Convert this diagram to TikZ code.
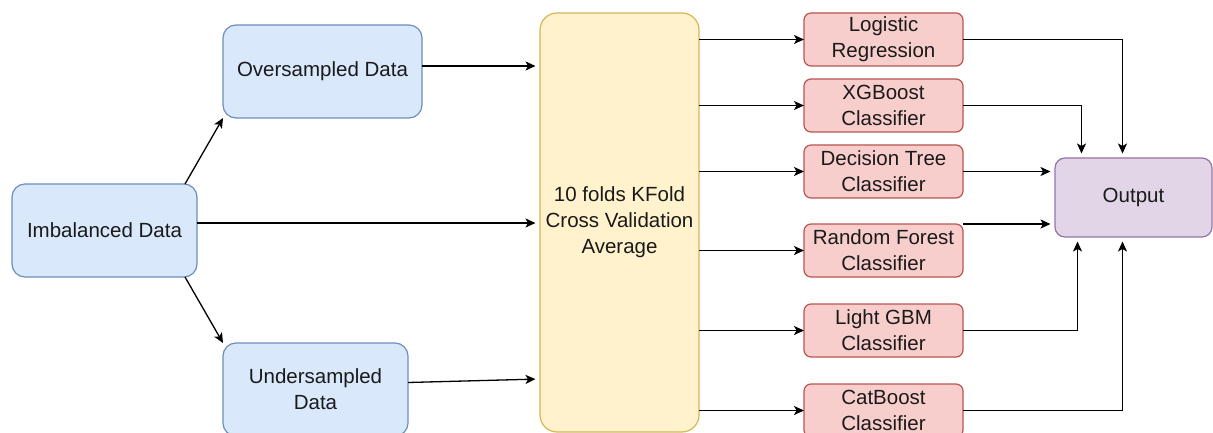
\documentclass[tikz,border=0pt]{standalone}
\usepackage{fontspec}
\setmainfont{Liberation Sans}
\usetikzlibrary{arrows.meta,calc}
\definecolor{bfill}{HTML}{DAE8FC}\definecolor{bdraw}{HTML}{6C8EBF}
\definecolor{yfill}{HTML}{FFF2CC}\definecolor{ydraw}{HTML}{D6B656}
\definecolor{rfill}{HTML}{F8CECC}\definecolor{rdraw}{HTML}{B85450}
\definecolor{pfill}{HTML}{E1D5E7}\definecolor{pdraw}{HTML}{9673A6}
\definecolor{txt}{HTML}{1A1A1A}
\tikzset{
  base/.style={rectangle, line width=1.2pt, outer sep=0pt, align=center, text=txt,
    font=\fontsize{20.5}{26}\selectfont, inner sep=0pt},
  bluebox/.style={base, fill=bfill, draw=bdraw, rounded corners=13pt},
  cvbox/.style={base, fill=yfill, draw=ydraw, rounded corners=17pt},
  redbox/.style={base, fill=rfill, draw=rdraw, rounded corners=7pt,
    minimum width=159, minimum height=53},
  outbox/.style={base, fill=pfill, draw=pdraw, rounded corners=10pt},
  arr/.style={line width=1.3pt, -{Stealth[length=10pt,width=9pt,inset=2.5pt]}},
  arrg/.style={arr, shorten >=4.5pt},
}
\begin{document}
\begin{tikzpicture}[x=1pt,y=-1pt]
\useasboundingbox (0,0) rectangle (1213,433);
\node[bluebox, minimum width=185, minimum height=93] (imb) at (104.5,230.5) {Imbalanced Data};
\node[bluebox, minimum width=199, minimum height=93] (over) at (322.5,71.5) {Oversampled Data};
\node[bluebox, minimum width=185, minimum height=93] (under) at (315.5,389.5) {Undersampled\\Data};
\node[cvbox, minimum width=159, minimum height=419] (cv) at (619.5,222.5) {10 folds KFold\\Cross Validation\\Average};
\node[redbox] (lr) at (883.5,39.5) {Logistic\\Regression};
\node[redbox] (xgb) at (883.5,105.5) {XGBoost\\Classifier};
\node[redbox] (dt) at (883.5,171.5) {Decision Tree\\Classifier};
\node[redbox] (rf) at (883.5,250.5) {Random Forest\\Classifier};
\node[redbox] (lgbm) at (883.5,330.5) {Light GBM\\Classifier};
\node[redbox] (cat) at (883.5,410.5) {CatBoost\\Classifier};
\node[outbox, minimum width=157, minimum height=79] (out) at (1133.5,197.5) {Output};

% left part
\draw[arr] ([xshift=-12pt]imb.north east) -- (over.south west);
\draw[arr] ([xshift=-12pt]imb.south east) -- (under.north west);
\coordinate (a1) at ([yshift=7.5pt]imb.east);
\draw[arrg] (a1) -- (a1 -| cv.west);
\coordinate (a2) at ([yshift=5.5pt]over.east);
\draw[arrg] (a2) -- (a2 -| cv.west);
\coordinate (a3) at ([yshift=7pt]under.east);
\coordinate (a4) at ([yshift=-156.5pt]cv.west);
\draw[arrg] (a3) -- (a4);

% cv to classifiers
\foreach \n in {lr,xgb,dt,rf,lgbm,cat}{
  \draw[arr] (cv.east |- \n.west) -- (\n.west);
}

% classifiers to output
\draw[arrg] (lr.east) -| ([xshift=-11pt]out.north);
\draw[arrg] (xgb.east) -| ([xshift=-52pt]out.north);
\draw[arrg] (dt.east) -- (dt.east -| out.west);
\draw[arrg] (rf.north east) -- (rf.north east -| out.west);
\draw[arrg] (lgbm.east) -| ([xshift=-56pt]out.south);
\draw[arrg] (cat.east) -| ([xshift=-11pt]out.south);
\end{tikzpicture}
\end{document}
